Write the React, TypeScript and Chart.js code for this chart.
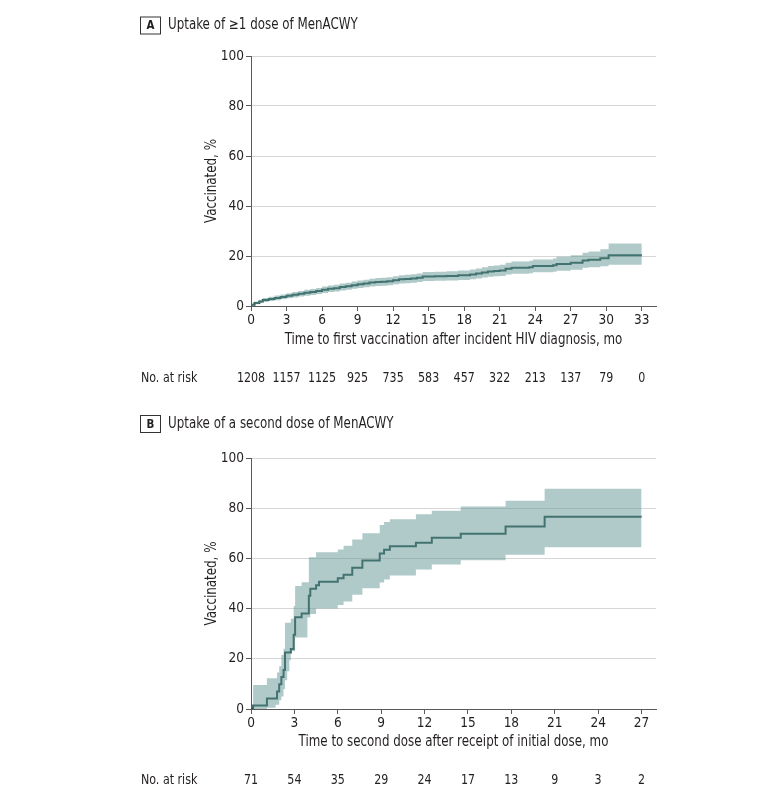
import React, { useEffect, useRef } from 'react';
import { Chart, registerables } from 'chart.js';

Chart.register(...registerables);

const FONT = "'Liberation Sans Narrow', 'DejaVu Sans Condensed', 'Roboto Condensed', Arial, sans-serif";
const TEXT = '#231f20';
const AXIS = '#5a5a5a';
const GRID = '#d6d6d6';
const LINE = '#25504e';
const BAND = 'rgba(98,150,148,0.5)';
const SX = 0.88; // narrow the fallback condensed face to match the reference's width

// ---------- Panel A: uptake of >=1 dose ----------
const timeA = [0, 0.3, 0.7, 1.0, 1.5, 2.0, 2.5, 3.0, 3.5, 4.0, 4.5, 5.0, 5.5, 6.0, 6.5, 7.0, 7.5, 8.0, 8.5, 9.0, 9.5, 10.0, 10.5, 11.0, 11.5, 12.0, 12.5, 13.0, 13.5, 14.0, 14.5, 15.5, 16.5, 17.5, 18.5, 19.0, 19.5, 20.0, 20.5, 21.0, 21.5, 22.0, 23.5, 23.8, 25.5, 25.8, 27.0, 28.0, 28.5, 29.5, 30.2, 33.0];
const estA = [0.5, 1.2, 1.8, 2.4, 2.8, 3.2, 3.6, 4.1, 4.5, 4.9, 5.3, 5.6, 6.0, 6.5, 6.9, 7.1, 7.6, 7.9, 8.3, 8.7, 9.0, 9.4, 9.6, 9.7, 9.9, 10.3, 10.7, 10.8, 11.0, 11.3, 11.8, 11.9, 12.0, 12.3, 12.6, 13.0, 13.4, 13.8, 14.0, 14.2, 14.9, 15.3, 15.5, 16.0, 16.3, 16.8, 17.3, 18.2, 18.5, 19.1, 20.3, 20.3];
const lowA = [0.2, 0.7, 1.2, 1.6, 2.0, 2.3, 2.7, 3.1, 3.4, 3.8, 4.1, 4.4, 4.8, 5.2, 5.6, 5.8, 6.2, 6.5, 6.9, 7.2, 7.5, 7.8, 8.0, 8.1, 8.3, 8.7, 9.0, 9.1, 9.3, 9.6, 10.0, 10.1, 10.2, 10.4, 10.7, 11.0, 11.4, 11.7, 11.9, 12.0, 12.6, 12.9, 13.1, 13.5, 13.7, 14.1, 14.5, 15.3, 15.5, 15.9, 16.5, 16.5];
const highA = [0.9, 1.8, 2.5, 3.2, 3.7, 4.2, 4.6, 5.1, 5.6, 6.0, 6.5, 6.8, 7.2, 7.8, 8.2, 8.5, 9.0, 9.3, 9.8, 10.2, 10.5, 10.9, 11.2, 11.3, 11.5, 11.9, 12.3, 12.5, 12.7, 13.0, 13.6, 13.7, 13.9, 14.2, 14.6, 15.0, 15.5, 16.0, 16.2, 16.5, 17.3, 17.8, 18.1, 18.6, 19.0, 19.7, 20.3, 21.3, 21.8, 22.7, 25.0, 25.0];
const xTicksA = [0, 3, 6, 9, 12, 15, 18, 21, 24, 27, 30, 33];
const riskA = [1208, 1157, 1125, 925, 735, 583, 457, 322, 213, 137, 79, 0];

// ---------- Panel B: uptake of a second dose ----------
const timeB = [0, 0.15, 1.1, 1.7, 1.8, 1.95, 2.1, 2.25, 2.35, 2.5, 2.65, 2.75, 2.95, 3.05, 3.5, 3.9, 4.0, 4.1, 4.5, 4.7, 6.0, 6.4, 7.0, 7.7, 8.9, 9.2, 9.6, 11.4, 12.5, 14.5, 17.6, 20.3, 27.0];
const estB = [0, 1.4, 4.2, 4.2, 7.0, 9.9, 12.7, 15.5, 22.5, 22.5, 22.5, 23.9, 29.6, 36.6, 38.0, 38.0, 45.1, 47.9, 49.3, 50.7, 52.1, 53.5, 56.3, 59.2, 62.0, 63.4, 64.8, 66.2, 68.2, 69.8, 72.7, 76.6, 76.6];
const lowB = [0, 0, 0.5, 1.7, 1.7, 3.5, 5.0, 8.0, 11.5, 15.0, 19.4, 23.0, 23.0, 28.5, 28.5, 36.5, 36.5, 37.8, 40.0, 40.0, 41.4, 42.8, 45.5, 48.1, 50.4, 51.6, 53.2, 55.6, 57.6, 59.3, 61.5, 64.4, 64.4];
const highB = [0, 9.6, 12.3, 12.3, 14.5, 17.0, 21.5, 24.0, 34.4, 34.4, 34.4, 36.0, 41.0, 49.0, 50.5, 50.5, 60.5, 60.5, 62.5, 62.5, 63.5, 65.0, 67.5, 70.0, 73.3, 74.5, 75.6, 77.6, 79.0, 80.7, 83.0, 87.7, 87.7];
const xTicksB = [0, 3, 6, 9, 12, 15, 18, 21, 24, 27];
const riskB = [71, 54, 35, 29, 24, 17, 13, 9, 3, 2];

const yTicks = [0, 20, 40, 60, 80, 100];

type PanelCfg = {
  letter: string;
  title: string;
  xTitle: string;
  time: number[];
  est: number[];
  low: number[];
  high: number[];
  xTicks: number[];
  risk: number[];
  xMax: number;
  top: number;
  bottom: number;
  titleY: number;
  xTitleY: number;
  riskY: number;
};

const panels: PanelCfg[] = [
  {
    letter: 'A',
    title: 'Uptake of \u22651 dose of MenACWY',
    xTitle: 'Time to first vaccination after incident HIV diagnosis, mo',
    time: timeA, est: estA, low: lowA, high: highA,
    xTicks: xTicksA, risk: riskA, xMax: 34.2,
    top: 56, bottom: 306, titleY: 25.5, xTitleY: 340, riskY: 378,
  },
  {
    letter: 'B',
    title: 'Uptake of a second dose of MenACWY',
    xTitle: 'Time to second dose after receipt of initial dose, mo',
    time: timeB, est: estB, low: lowB, high: highB,
    xTicks: xTicksB, risk: riskB, xMax: 28,
    top: 59, bottom: 310, titleY: 25, xTitleY: 343, riskY: 381,
  },
];

const W = 780;
const H = 399;
const LEFT = 251;
const RIGHT = 656;

function txt(ctx: CanvasRenderingContext2D, s: string, x: number, y: number, align: CanvasTextAlign, rot = 0) {
  ctx.save();
  ctx.translate(x, y);
  if (rot) ctx.rotate(rot);
  ctx.scale(SX, 1);
  ctx.textAlign = align;
  ctx.fillText(s, 0, 0);
  ctx.restore();
}

function makePlugin(p: PanelCfg) {
  return {
    id: 'panelText' + p.letter,
    afterDraw(chart: any) {
      const ctx = chart.ctx as CanvasRenderingContext2D;
      const ca = chart.chartArea;
      const xs = chart.scales.x;
      ctx.save();
      ctx.strokeStyle = '#333';
      ctx.lineWidth = 1;
      ctx.strokeRect(140.5, p.titleY - 8.5, 20, 17);
      ctx.fillStyle = TEXT;
      ctx.textBaseline = 'middle';
      ctx.font = `bold 13px ${FONT}`;
      txt(ctx, p.letter, 150.5, p.titleY + 0.5, 'center');
      ctx.font = `15px ${FONT}`;
      txt(ctx, p.title, 168, p.titleY, 'left');
      txt(ctx, p.xTitle, (ca.left + ca.right) / 2, p.xTitleY, 'center');
      txt(ctx, 'Vaccinated, %', 212, (ca.top + ca.bottom) / 2, 'center', -Math.PI / 2);
      ctx.font = `14px ${FONT}`;
      txt(ctx, 'No. at risk', 141, p.riskY, 'left');
      p.xTicks.forEach((t, i) => {
        txt(ctx, String(p.risk[i]), xs.getPixelForValue(t), p.riskY, 'center');
      });
      ctx.restore();
    },
  };
}

function Panel({ p }: { p: PanelCfg }) {
  const ref = useRef<HTMLCanvasElement | null>(null);
  useEffect(() => {
    if (!ref.current) return;
    const pts = (arr: number[]) => p.time.map((t, i) => ({ x: t, y: arr[i] }));
    const chart = new Chart(ref.current, {
      type: 'line',
      data: {
        datasets: [
          {
            data: pts(p.high),
            stepped: 'before',
            borderWidth: 0,
            borderColor: 'rgba(0,0,0,0)',
            backgroundColor: BAND,
            pointRadius: 0,
            fill: '+1',
          },
          {
            data: pts(p.low),
            stepped: 'before',
            borderWidth: 0,
            borderColor: 'rgba(0,0,0,0)',
            pointRadius: 0,
            fill: false,
          },
          {
            data: pts(p.est),
            stepped: 'before',
            borderWidth: 2,
            borderColor: LINE,
            pointRadius: 0,
            fill: false,
          },
        ],
      } as any,
      options: {
        animation: false,
        responsive: false,
        maintainAspectRatio: false,
        layout: { padding: { left: 0, right: W - RIGHT, top: p.top, bottom: 0 } },
        plugins: { legend: { display: false }, tooltip: { enabled: false } },
        scales: {
          x: {
            type: 'linear',
            min: 0,
            max: p.xMax,
            afterBuildTicks: (s: any) => { s.ticks = p.xTicks.map((v) => ({ value: v })); },
            afterFit: (s: any) => { s.height = H - p.bottom; },
            grid: { drawOnChartArea: false, drawTicks: true, tickLength: 5, tickColor: AXIS, color: AXIS },
            border: { color: AXIS, width: 1 },
            ticks: { font: { family: FONT, size: 13.5 }, color: TEXT, padding: 1, maxRotation: 0, autoSkip: false },
          },
          y: {
            type: 'linear',
            min: 0,
            max: 100,
            afterBuildTicks: (s: any) => { s.ticks = yTicks.map((v) => ({ value: v })); },
            afterFit: (s: any) => { s.width = LEFT; },
            grid: { color: GRID, lineWidth: 1, drawTicks: true, tickLength: 5, tickColor: AXIS },
            border: { color: AXIS, width: 1 },
            ticks: { font: { family: FONT, size: 13.5 }, color: TEXT, padding: 2 },
          },
        },
      } as any,
      plugins: [makePlugin(p)],
    });
    return () => chart.destroy();
  }, [p]);
  return <canvas ref={ref} width={W} height={H} style={{ display: 'block', width: W, height: H }} />;
}

export default function App() {
  return (
    <div style={{ position: 'absolute', left: 0, top: 0, width: W, height: 798, background: '#fff' }}>
      <Panel p={panels[0]} />
      <Panel p={panels[1]} />
    </div>
  );
}
